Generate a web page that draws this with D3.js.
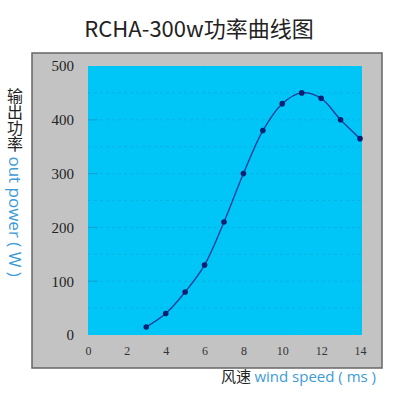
<!DOCTYPE html>
<html><head><meta charset="utf-8">
<script src="https://cdn.jsdelivr.net/npm/d3@7"></script>
<style>body{margin:0;background:#fff}svg{display:block}</style>
</head><body>
<script>
const windSpeed = [3,4,5,6,7,8,9,10,11,12,13,14];
const power = [15,40,80,130,210,300,380,430,450,440,400,365];
const xTicks = [0,2,4,6,8,10,12,14];
const yTicks = [0,100,200,300,400,500];
const titleText = "RCHA-300w功率曲线图";

const svg = d3.select("body").append("svg").attr("width",400).attr("height",400);
const x = d3.scaleLinear().domain([0,14]).range([88,360]);
const y = d3.scaleLinear().domain([0,500]).range([335,66]);

svg.append("text").attr("x",199).attr("y",37).attr("text-anchor","middle")
  .style("font-family","'Noto Sans CJK SC','Open Sans',sans-serif").style("font-size","22px")
  .attr("fill","#222").text(titleText);

// frame
svg.append("rect").attr("x",32).attr("y",53).attr("width",350).attr("height",315)
  .attr("fill","#c3c3c3").attr("stroke","#666").attr("stroke-width",1.5);
svg.append("rect").attr("x",88).attr("y",66).attr("width",274).attr("height",269)
  .attr("fill","#00c6f7");

// grid
const g = svg.append("g");
g.selectAll("line.h").data(d3.range(50,500,50)).join("line")
  .attr("x1",88).attr("x2",362).attr("y1",d=>y(d)).attr("y2",d=>y(d))
  .attr("stroke","#1f8fc0").attr("stroke-opacity",0.35).attr("stroke-dasharray","3,3");
g.selectAll("line.v").data(d3.range(1,14,1)).join("line")
  .attr("x1",d=>x(d)).attr("x2",d=>x(d)).attr("y1",66).attr("y2",335)
  .attr("stroke","#1f8fc0").attr("stroke-opacity",0.18).attr("stroke-dasharray","1,3");

// y axis
const ya = svg.append("g").attr("transform","translate(88,0)")
  .call(d3.axisLeft(y).tickValues(yTicks).tickSize(0).tickPadding(14));
ya.select(".domain").remove();
ya.selectAll("text").style("font-family","'Liberation Serif','Times New Roman',serif").style("font-size","15px").attr("fill","#222");
svg.selectAll("line.yt").data(yTicks.slice(1,5)).join("line")
  .attr("x1",88).attr("x2",98).attr("y1",d=>y(d)).attr("y2",d=>y(d))
  .attr("stroke","#1f8fc0").attr("stroke-opacity",0.6);

// x axis
const xa = svg.append("g").attr("transform","translate(0,335)")
  .call(d3.axisBottom(x).tickValues(xTicks).tickSize(0).tickPadding(11));
xa.select(".domain").remove();
xa.selectAll("text").style("font-family","'Liberation Serif','Times New Roman',serif").style("font-size","12px").attr("fill","#333");

// curve
const line = d3.line().x((d,i)=>x(windSpeed[i])).y(d=>y(d)).curve(d3.curveCatmullRom.alpha(0.5));
svg.append("path").datum(power).attr("d",line).attr("fill","none")
  .attr("stroke","#1c3f9c").attr("stroke-width",1.4);
svg.selectAll("circle").data(power).join("circle")
  .attr("cx",(d,i)=>x(windSpeed[i])).attr("cy",d=>y(d)).attr("r",2.8).attr("fill","#0b1f73");

// y title (vertical writing)
const yt = svg.append("text").attr("x",15).attr("y",88)
  .style("writing-mode","vertical-rl")
  .style("font-family","'Noto Sans CJK SC',sans-serif").style("font-size","16px");
yt.append("tspan").attr("fill","#222").text("输出功率");
yt.append("tspan").attr("fill","#3d9bd8").style("font-family","'Open Sans',sans-serif").style("font-size","17px").text(" out power ( W )");

// x title
const xt = svg.append("text").attr("x",376).attr("y",382).attr("text-anchor","end")
  .style("font-family","'Noto Sans CJK SC',sans-serif").style("font-size","15px");
xt.append("tspan").attr("fill","#222").text("风速 ");
xt.append("tspan").attr("fill","#3d9bd8").style("font-family","'Open Sans',sans-serif").text("wind speed ( ms )");
</script>
</body></html>
